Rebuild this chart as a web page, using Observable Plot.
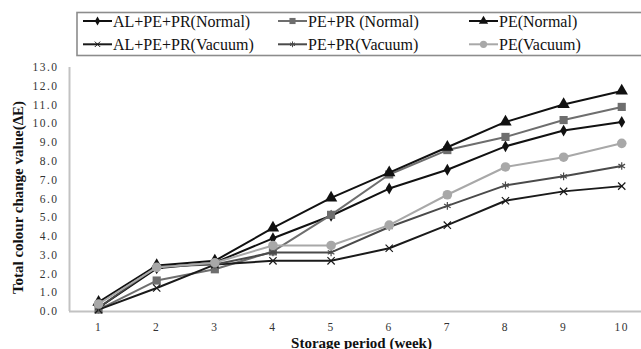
<!DOCTYPE html>
<html>
<head>
<meta charset="utf-8">
<script src="https://cdn.jsdelivr.net/npm/d3@7"></script>
<script src="https://cdn.jsdelivr.net/npm/@observablehq/plot@0.6"></script>
<style>
  html, body { margin: 0; padding: 0; background: #fff; }
  #wrap { position: relative; width: 641px; height: 349px; overflow: hidden; }
  #wrap svg { position: absolute; left: 0; top: 0; }
  #wrap svg text { font-family: "Liberation Serif", serif !important; }
  g[aria-label="y-axis tick label"] text, g[aria-label="x-axis tick label"] text { letter-spacing: 1.5px; }
</style>
</head>
<body>
<div id="wrap"></div>
<script>
// ---- data ----
const weeks = [1, 2, 3, 4, 5, 6, 7, 8, 9, 10];
const alNormal   = [0.2, 2.3, 2.6, 3.9, 5.1, 6.55, 7.55, 8.8, 9.64, 10.1];
const pePrNormal = [0.1, 1.65, 2.25, 3.2, 5.15, 7.3, 8.6, 9.3, 10.2, 10.9];
const peNormal   = [0.5, 2.45, 2.7, 4.45, 6.05, 7.4, 8.75, 10.1, 11.03, 11.75];
const alVacuum   = [0.1, 1.25, 2.5, 2.7, 2.7, 3.37, 4.6, 5.9, 6.4, 6.68];
const pePrVacuum = [0.2, 2.4, 2.5, 3.15, 3.15, 4.5, 5.63, 6.72, 7.2, 7.75];
const peVacuum   = [0.4, 2.35, 2.6, 3.52, 3.52, 4.6, 6.22, 7.7, 8.22, 8.96];
const seriesNames = ["AL+PE+PR(Normal)", "PE+PR (Normal)", "PE(Normal)", "AL+PE+PR(Vacuum)", "PE+PR(Vacuum)", "PE(Vacuum)"];
const yTicks = [0, 1, 2, 3, 4, 5, 6, 7, 8, 9, 10, 11, 12, 13];
const xTitle = "Storage period (week)";
const yTitle = "Total colour change value(ΔE)";

// ---- styling per series ----
const FONT = "Liberation Serif";
const seriesValues = [alNormal, pePrNormal, peNormal, alVacuum, pePrVacuum, peVacuum];
const styles = [
  {color: "#111111", symbol: "diamond",  r: 3.6, filled: true},
  {color: "#6e6e6e", symbol: "square",   r: 4.6, filled: true},
  {color: "#111111", symbol: "triangle", r: 4.6, filled: true},
  {color: "#1a1a1a", symbol: "times",    r: 3.4, filled: false},
  {color: "#4a4a4a", symbol: "asterisk", r: 3.6, filled: false},
  {color: "#a8a8a8", symbol: "circle",   r: 4.8, filled: true}
];
const rows = seriesNames.flatMap((name, k) => weeks.map((w, i) => ({series: name, week: w, value: seriesValues[k][i]})));

const marks = [
  Plot.ruleX([0.5], {y1: 0, y2: 13, stroke: "#c2c2c2", strokeWidth: 2}),
  Plot.ruleY([0], {stroke: "#c2c2c2", strokeWidth: 2}),
  Plot.axisY({ticks: yTicks, tickFormat: d => d.toFixed(1), tickSize: 0, tickPadding: 11, fontSize: 11.5, fontFamily: FONT, fill: "#333", label: null}),
  Plot.axisX({ticks: weeks, tickFormat: d => String(d), tickSize: 0, tickPadding: 11, fontSize: 11.5, fontFamily: FONT, fill: "#333", label: null}),
  Plot.text([yTitle], {frameAnchor: "left", textAnchor: "middle", rotate: -90, dx: -51, dy: 8, fontSize: 15, fontWeight: "bold", fontFamily: FONT, fill: "#111"}),
  Plot.text([xTitle], {frameAnchor: "bottom", textAnchor: "middle", lineAnchor: "bottom", dx: 6, dy: 36, fontSize: 15, fontWeight: "bold", fontFamily: FONT, fill: "#111", style: "letter-spacing: 0.8px"})
];
seriesNames.forEach((name, k) => {
  const s = styles[k];
  const d = rows.filter(r => r.series === name);
  marks.push(Plot.line(d, {x: "week", y: "value", stroke: s.color, strokeWidth: 2}));
  marks.push(Plot.dot(d, s.filled
    ? {x: "week", y: "value", symbol: () => s.symbol, r: s.r, fill: s.color, stroke: "none"}
    : {x: "week", y: "value", symbol: () => s.symbol, r: s.r, fill: "none", stroke: s.color, strokeWidth: 1.2}));
});

const chart = Plot.plot({
  width: 641,
  height: 349,
  marginLeft: 69,
  marginRight: 0,
  marginTop: 67,
  marginBottom: 38,
  style: {fontFamily: FONT, color: "#333", background: "transparent", overflow: "visible"},
  x: {domain: [0.5, 10.34], axis: null},
  y: {domain: [0, 13], axis: null},
  symbol: {type: "identity"},
  marks
});
const wrap = document.getElementById("wrap");
wrap.appendChild(chart);

// ---- legend (above the plot) ----
const leg = d3.select(wrap).append("svg").attr("width", 641).attr("height", 60)
  .style("font-family", `'${FONT}', serif`);
leg.append("rect").attr("x", 77).attr("y", 12.5).attr("width", 600).attr("height", 43)
  .attr("fill", "none").attr("stroke", "#8c8c8c").attr("stroke-width", 1.6);
const colX = [83, 278, 469];
const rowY = [21, 44.3];
const symMap = {diamond: d3.symbolDiamond, square: d3.symbolSquare, triangle: d3.symbolTriangle, times: d3.symbolTimes || d3.symbolX, asterisk: d3.symbolAsterisk, circle: d3.symbolCircle};
seriesNames.forEach((name, k) => {
  const s = styles[k];
  const x0 = colX[k % 3], y0 = rowY[Math.floor(k / 3)];
  const g = leg.append("g");
  g.append("line").attr("x1", x0).attr("x2", x0 + 29).attr("y1", y0).attr("y2", y0)
    .attr("stroke", s.color).attr("stroke-width", 2);
  const rr = s.r * 0.75;
  const size = Math.PI * rr * rr;
  const p = g.append("path").attr("d", d3.symbol(symMap[s.symbol], size)())
    .attr("transform", `translate(${x0 + 14.5},${y0})`);
  if (s.filled) p.attr("fill", s.color); else p.attr("fill", "none").attr("stroke", s.color).attr("stroke-width", 1);
  g.append("text").attr("x", x0 + 30).attr("y", y0).attr("dy", "0.35em")
    .attr("font-size", 16).attr("fill", "#111").text(name);
});
</script>
</body>
</html>
